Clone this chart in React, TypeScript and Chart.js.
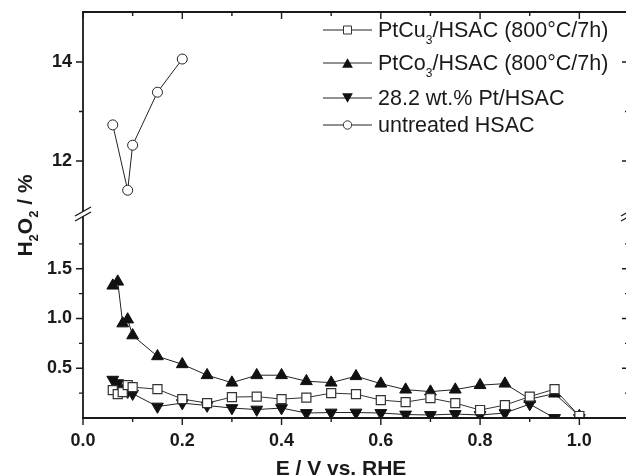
import { useEffect, useRef } from 'react';
import { Chart, registerables } from 'chart.js';

Chart.register(...registerables);

// ---- data ----
const potentials = [0.06, 0.07, 0.08, 0.09, 0.10, 0.15, 0.20, 0.25, 0.30, 0.35, 0.40, 0.45, 0.50, 0.55, 0.60, 0.65, 0.70, 0.75, 0.80, 0.85, 0.90, 0.95, 1.00];
const ptCu3 = [0.28, 0.24, 0.26, 0.33, 0.31, 0.29, 0.19, 0.15, 0.21, 0.215, 0.19, 0.205, 0.25, 0.24, 0.18, 0.16, 0.20, 0.15, 0.08, 0.13, 0.215, 0.29, 0.02];
const ptCo3 = [1.33, 1.37, 0.95, 0.99, 0.83, 0.62, 0.54, 0.43, 0.355, 0.43, 0.43, 0.37, 0.355, 0.42, 0.345, 0.285, 0.265, 0.285, 0.33, 0.345, 0.19, 0.245, 0.02];
const ptHsac = [0.385, 0.35, 0.30, 0.265, 0.245, 0.115, 0.15, 0.125, 0.10, 0.085, 0.10, 0.05, 0.055, 0.055, 0.05, 0.035, 0.03, 0.04, 0.03, 0.05, 0.14, 0.0, 0.0];
const untreatedPotentials = [0.06, 0.09, 0.10, 0.15, 0.20];
const untreated = [12.73, 11.41, 12.32, 13.39, 14.06];

const legendLabels = ['PtCu_3/HSAC (800°C/7h)', 'PtCo_3/HSAC (800°C/7h)', '28.2 wt.% Pt/HSAC', 'untreated HSAC'];
const xTitle = 'E / V vs. RHE';
const yTitle = 'H_2O_2 / %';

const xMajorTicks = [0, 0.2, 0.4, 0.6, 0.8, 1.0];
const xMinorTicks = [0.1, 0.3, 0.5, 0.7, 0.9, 1.1];
const yLowerMajor = [0.5, 1.0, 1.5];
const yLowerMinor = [0.25, 0.75, 1.25, 1.75];
const yUpperMajor = [12, 14];
const yUpperMinor = [13];

const INK = '#1a1a1a';
const FONT = '"Liberation Sans", Arial, sans-serif';

type Part = { t: string; sub: boolean };
function parseRich(s: string): Part[] {
  const parts: Part[] = [];
  const re = /_(\d)/g;
  let last = 0;
  let m: RegExpExecArray | null;
  while ((m = re.exec(s))) {
    if (m.index > last) parts.push({ t: s.slice(last, m.index), sub: false });
    parts.push({ t: m[1], sub: true });
    last = m.index + m[0].length;
  }
  if (last < s.length) parts.push({ t: s.slice(last), sub: false });
  return parts;
}

function drawRich(ctx: CanvasRenderingContext2D, s: string, x: number, y: number, size: number, subSize: number, subOff: number, weight: string, align: 'left' | 'center') {
  const parts = parseRich(s);
  const fontFor = (p: Part) => `${weight} ${p.sub ? subSize : size}px ${FONT}`;
  let total = 0;
  for (const p of parts) { ctx.font = fontFor(p); total += ctx.measureText(p.t).width; }
  let cx = align === 'center' ? x - total / 2 : x;
  ctx.textAlign = 'left';
  ctx.textBaseline = 'alphabetic';
  for (const p of parts) {
    ctx.font = fontFor(p);
    ctx.fillText(p.t, cx, p.sub ? y + subOff : y);
    cx += ctx.measureText(p.t).width;
  }
}

function drawSymbol(ctx: CanvasRenderingContext2D, kind: number, x: number, y: number) {
  ctx.beginPath();
  if (kind === 0) {
    ctx.rect(x - 4, y - 4, 8, 8);
    ctx.fillStyle = '#fff';
    ctx.fill();
    ctx.lineWidth = 1;
    ctx.strokeStyle = '#333';
    ctx.stroke();
  } else if (kind === 1 || kind === 2) {
    const r = 6.2;
    const d = kind === 1 ? 1 : -1;
    const cy = y + d * r * 0.25;
    ctx.moveTo(x, cy - d * r);
    ctx.lineTo(x + r * 0.866, cy + d * r * 0.5);
    ctx.lineTo(x - r * 0.866, cy + d * r * 0.5);
    ctx.closePath();
    ctx.fillStyle = '#111';
    ctx.fill();
  } else {
    ctx.arc(x, y, 4.2, 0, Math.PI * 2);
    ctx.fillStyle = '#fff';
    ctx.fill();
    ctx.lineWidth = 1;
    ctx.strokeStyle = '#333';
    ctx.stroke();
  }
}

const decorPlugin = {
  id: 'decor',
  afterDraw(chart: any) {
    const { ctx, chartArea: a, scales } = chart;
    const xs = scales.x, yl = scales.y, yu = scales.y2;
    const br = (yl.top + yu.bottom) / 2;
    const gap = 2.5;
    ctx.save();
    ctx.strokeStyle = INK;
    ctx.lineWidth = 1.8;
    ctx.beginPath();
    ctx.moveTo(a.left - 1, a.bottom); ctx.lineTo(a.right + 1, a.bottom);
    ctx.moveTo(a.left - 1, a.top); ctx.lineTo(a.right + 1, a.top);
    for (const ex of [a.left, a.right]) {
      ctx.moveTo(ex, a.top); ctx.lineTo(ex, br - gap);
      ctx.moveTo(ex, br + gap); ctx.lineTo(ex, a.bottom);
    }
    ctx.stroke();

    // ticks
    ctx.lineWidth = 1.4;
    ctx.beginPath();
    const tick = (x1: number, y1: number, x2: number, y2: number) => { ctx.moveTo(x1, y1); ctx.lineTo(x2, y2); };
    for (const v of xMajorTicks) { const px = xs.getPixelForValue(v); tick(px, a.bottom, px, a.bottom + 7); tick(px, a.top, px, a.top + 7); }
    for (const v of xMinorTicks) { const px = xs.getPixelForValue(v); tick(px, a.bottom, px, a.bottom + 4); tick(px, a.top, px, a.top + 4); }
    const yt = (sc: any, vals: number[], len: number) => {
      for (const v of vals) { const py = sc.getPixelForValue(v); tick(a.left - len, py, a.left, py); tick(a.right - len, py, a.right, py); }
    };
    yt(yl, yLowerMajor, 7); yt(yl, yLowerMinor, 4); yt(yu, yUpperMajor, 7); yt(yu, yUpperMinor, 4);
    ctx.stroke();

    // break marks
    ctx.lineWidth = 1.4;
    ctx.beginPath();
    for (const ex of [a.left, a.right]) {
      for (const c of [br - gap, br + gap]) {
        ctx.moveTo(ex - 8, c + 4.5); ctx.lineTo(ex + 8, c - 4.5);
      }
    }
    ctx.stroke();

    // legend
    const rowY = [30, 63, 98, 125];
    legendLabels.forEach((lab, i) => {
      const y = rowY[i];
      ctx.beginPath();
      ctx.lineWidth = 1;
      ctx.strokeStyle = '#222';
      ctx.moveTo(323, y); ctx.lineTo(372, y);
      ctx.stroke();
      drawSymbol(ctx, i, 347.5, y);
      ctx.fillStyle = INK;
      drawRich(ctx, lab, 378, y + 7, 21.5, 12, 7, 'normal', 'left');
    });

    // axis titles
    ctx.fillStyle = INK;
    drawRich(ctx, xTitle, 341, 475, 21, 13, 6, 'bold', 'center');
    ctx.save();
    ctx.translate(32, 215.5);
    ctx.rotate(-Math.PI / 2);
    drawRich(ctx, yTitle, 0, 0, 21, 13, 6, 'bold', 'center');
    ctx.restore();
    ctx.restore();
  },
};

export default function App() {
  const ref = useRef<HTMLCanvasElement>(null);
  useEffect(() => {
    if (!ref.current) return;
    const tickFont = { family: FONT, size: 18, weight: 'bold' as const };
    const fitY = (s: any) => { s.width = 83; s.paddingTop = 0; s.paddingBottom = 0; };
    const chart = new Chart(ref.current, {
      type: 'line',
      data: {
        datasets: [
          {
            label: 'PtCu3/HSAC (800°C/7h)',
            data: potentials.map((x, i) => ({ x, y: ptCu3[i] })),
            yAxisID: 'y',
            borderColor: '#333', borderWidth: 1,
            pointStyle: 'rect', pointRadius: 6.4,
            pointBackgroundColor: '#fff', pointBorderColor: '#333', pointBorderWidth: 1.2,
          },
          {
            label: 'PtCo3/HSAC (800°C/7h)',
            data: potentials.map((x, i) => ({ x, y: ptCo3[i] })),
            yAxisID: 'y',
            borderColor: '#222', borderWidth: 1,
            pointStyle: 'triangle', pointRadius: 6.8,
            pointBackgroundColor: '#111', pointBorderColor: '#111', pointBorderWidth: 1,
          },
          {
            label: '28.2 wt.% Pt/HSAC',
            data: potentials.map((x, i) => ({ x, y: ptHsac[i] })),
            yAxisID: 'y',
            borderColor: '#222', borderWidth: 1,
            pointStyle: 'triangle', pointRotation: 180, pointRadius: 6.8,
            pointBackgroundColor: '#111', pointBorderColor: '#111', pointBorderWidth: 1,
          },
          {
            label: 'untreated HSAC',
            data: untreatedPotentials.map((x, i) => ({ x, y: untreated[i] })),
            yAxisID: 'y2',
            borderColor: '#222', borderWidth: 1,
            pointStyle: 'circle', pointRadius: 5,
            pointBackgroundColor: '#fff', pointBorderColor: '#222', pointBorderWidth: 1,
          },
        ],
      },
      options: {
        animation: false,
        responsive: false,
        devicePixelRatio: 1,
        layout: { padding: { top: 12, right: 11, left: 0, bottom: 0 } },
        plugins: { legend: { display: false }, tooltip: { enabled: false } },
        scales: {
          x: {
            type: 'linear', min: 0, max: 1.1,
            afterBuildTicks: (s: any) => { s.ticks = xMajorTicks.map((v) => ({ value: v })); },
            ticks: { callback: (v: any) => Number(v).toFixed(1), font: tickFont, color: INK, padding: 12, autoSkip: false, maxRotation: 0 },
            grid: { display: false, drawTicks: false },
            border: { display: false },
            afterFit: (s: any) => { s.height = 58; s.paddingLeft = 0; s.paddingRight = 0; },
          },
          y: {
            type: 'linear', position: 'left', stack: 'h2o2', stackWeight: 204,
            min: 0, max: 2.05,
            afterBuildTicks: (s: any) => { s.ticks = yLowerMajor.map((v) => ({ value: v })); },
            ticks: { callback: (v: any) => Number(v).toFixed(1), font: tickFont, color: INK, padding: 11 },
            grid: { display: false, drawTicks: false },
            border: { display: false },
            afterFit: fitY,
          },
          y2: {
            type: 'linear', position: 'left', stack: 'h2o2', stackWeight: 202,
            min: 10.93, max: 15.01,
            afterBuildTicks: (s: any) => { s.ticks = yUpperMajor.map((v) => ({ value: v })); },
            ticks: { callback: (v: any) => String(v), font: tickFont, color: INK, padding: 11 },
            grid: { display: false, drawTicks: false },
            border: { display: false },
            afterFit: fitY,
          },
        },
      },
      plugins: [decorPlugin],
    } as any);
    return () => chart.destroy();
  }, []);
  return (
    <div style={{ position: 'fixed', left: 0, top: 0, width: 626, height: 476, overflow: 'hidden', background: '#fff' }}>
      <canvas ref={ref} width={640} height={476} style={{ display: 'block' }} />
    </div>
  );
}
